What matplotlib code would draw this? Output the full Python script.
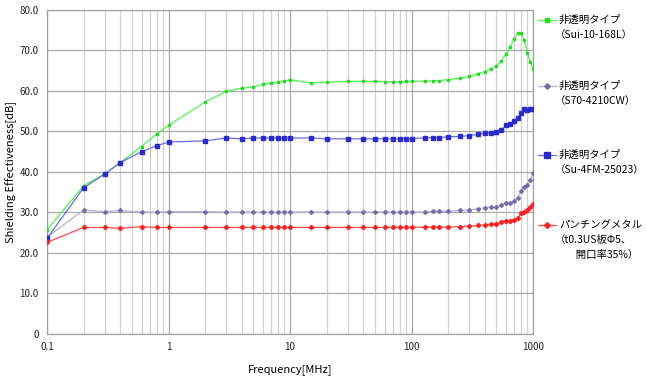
import numpy as np
import matplotlib
matplotlib.use("Agg")
import matplotlib.pyplot as plt
from matplotlib.lines import Line2D
from matplotlib.ticker import FixedLocator, NullFormatter

plt.rcParams['font.family'] = ['Noto Sans CJK JP', 'DejaVu Sans']

# 周波数 (MHz)
freq = [0.1, 0.2, 0.3, 0.4, 0.6, 0.8, 1,
        2, 3, 4, 5, 6, 7, 8, 9, 10,
        15, 20, 30, 40, 50, 60, 70, 80, 90, 100,
        130, 150, 170, 200, 250, 300, 350, 400, 450, 500,
        550, 600, 650, 700, 750, 800, 850, 900, 950, 1000]

# 非透明タイプ (Sui-10-168L)
se_sui = [25.6, 36.5, 39.5, 42.2, 46.2, 49.3, 51.4,
          57.2, 59.8, 60.6, 60.9, 61.6, 61.9, 62.1, 62.4, 62.7,
          61.9, 62.1, 62.3, 62.3, 62.3, 62.2, 62.2, 62.2, 62.3, 62.3,
          62.35, 62.4, 62.5, 62.7, 63.1, 63.5, 64.2, 64.7, 65.4, 66.1,
          67.4, 69.0, 70.9, 72.8, 74.2, 74.2, 72.4, 69.3, 67.0, 65.4]

# 非透明タイプ (S70-4210CW)
se_s70 = [23.8, 30.5, 30.1, 30.4, 30.0, 30.0, 30.1,
          30.1, 30.0, 30.0, 30.0, 30.0, 30.0, 30.0, 30.0, 30.0,
          30.0, 30.0, 30.0, 30.0, 30.0, 30.0, 30.0, 30.0, 30.0, 30.0,
          30.0, 30.2, 30.2, 30.2, 30.4, 30.5, 30.8, 31.1, 31.2, 31.3,
          31.8, 32.3, 32.3, 32.8, 33.6, 35.3, 36.1, 36.6, 37.9, 39.6]

# 非透明タイプ (Su-4FM-25023)
se_su4 = [23.5, 36.0, 39.4, 42.2, 44.9, 46.4, 47.3,
          47.6, 48.3, 48.1, 48.3, 48.3, 48.3, 48.3, 48.3, 48.3,
          48.3, 48.1, 48.1, 48.1, 48.1, 48.1, 48.1, 48.1, 48.1, 48.1,
          48.4, 48.4, 48.4, 48.6, 48.7, 48.9, 49.2, 49.5, 49.6, 49.9,
          50.3, 51.4, 51.8, 52.4, 53.2, 54.4, 55.4, 55.3, 55.4, 55.4]

# パンチングメタル
se_punch = [22.5, 26.2, 26.2, 26.0, 26.4, 26.2, 26.2,
            26.2, 26.2, 26.2, 26.2, 26.2, 26.2, 26.2, 26.2, 26.2,
            26.2, 26.2, 26.2, 26.2, 26.2, 26.2, 26.2, 26.2, 26.2, 26.2,
            26.3, 26.3, 26.3, 26.3, 26.4, 26.5, 26.7, 26.8, 27.0, 27.1,
            27.5, 27.9, 27.9, 28.1, 28.6, 29.7, 30.0, 30.5, 31.3, 31.9]

y_ticks = [0, 10, 20, 30, 40, 50, 60, 70, 80]
y_labels = ['0', '10.0', '20.0', '30.0', '40.0', '50.0', '60.0', '70.0', '80.0']
x_ticks = [0.1, 1, 10, 100, 1000]
x_labels = ['0.1', '1', '10', '100', '1000']

# 系列のスタイル: (データ, 線色, マーカー色, マーカー, サイズ)
series = [
    (se_sui, '#4cf54c', '#22dd22', 's', 1.6),
    (se_s70, '#b4aed6', '#7a6aa8', 'D', 2.0),
    (se_su4, '#6a6aee', '#2a2ad0', 's', 3.0),
    (se_punch, '#ff4a4a', '#ff2020', 'D', 2.2),
]

fig = plt.figure(figsize=(6.46, 3.80), dpi=100)
W, H = 646, 380
ax = fig.add_axes([47 / W, 1 - 333.5 / H, (533 - 47) / W, (333.5 - 9.7) / H])

for data, lc, mc, mk, ms in series:
    ax.plot(freq, data, color=lc, lw=0.9, marker=mk, ms=ms,
            markerfacecolor=mc, markeredgecolor=mc, zorder=3)

ax.set_xscale('log')
ax.set_xlim(0.1, 1000)
ax.set_ylim(0, 80)

minor = [m * 10.0 ** e for e in range(-1, 3) for m in range(2, 10)]
ax.xaxis.set_minor_locator(FixedLocator(minor))
ax.xaxis.set_minor_formatter(NullFormatter())
ax.set_xticks(x_ticks)
ax.set_xticklabels(x_labels)
ax.set_yticks(y_ticks)
ax.set_yticklabels(y_labels)

ax.grid(True, which='major', axis='both', color='#a8a8a8', lw=0.9)
ax.grid(True, which='minor', axis='x', color='#d0d0d0', lw=0.9)
ax.set_axisbelow(True)
ax.tick_params(which='both', length=0, labelsize=7, colors='#222222', pad=6)
for s in ax.spines.values():
    s.set_color('#a0a0a0')
    s.set_linewidth(0.9)

ax.set_xlabel('Frequency[MHz]', fontsize=8, labelpad=9)
ax.set_ylabel('Shielding Effectiveness[dB]', fontsize=8, labelpad=2)

# 凡例 (手書き配置)
legend_items = [
    (20, ['非透明タイプ', '（Sui-10-168L）']),
    (86, ['非透明タイプ', '（S70-4210CW）']),
    (155, ['非透明タイプ', '（Su-4FM-25023）']),
    (225, ['パンチングメタル', '（t0.3US板Φ5、', '　　開口率35%）']),
]
for (y0, lines), (data, lc, mc, mk, ms) in zip(legend_items, series):
    yf = 1 - y0 / H
    fig.add_artist(Line2D([538 / W, 556 / W], [yf, yf], color=lc, lw=0.9,
                          transform=fig.transFigure))
    fig.add_artist(Line2D([547 / W], [yf], marker=mk, ms=ms + 0.8, color=mc,
                          markeredgecolor=mc, transform=fig.transFigure))
    fig.text(559 / W, yf, lines[0], fontsize=7.5, va='center', ha='left')
    for i, t in enumerate(lines[1:]):
        fig.text(555 / W, 1 - (y0 + 15 * (i + 1)) / H, t, fontsize=7.5,
                 va='center', ha='left')

fig.savefig('out.png', dpi=100)
